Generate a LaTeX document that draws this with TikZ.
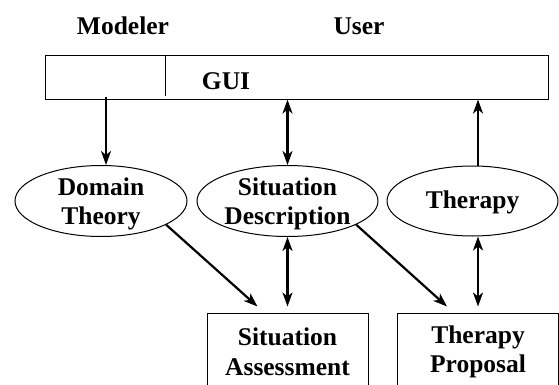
\documentclass[tikz,border=0pt]{standalone}
\usepackage{fontspec}
\setmainfont{Liberation Serif}
\usetikzlibrary{shapes.geometric,arrows.meta}
\begin{document}
\begin{tikzpicture}[x=1pt,y=-1pt,
  every node/.style={font=\fontsize{25.5}{29.5}\selectfont\bfseries},
  ell/.style={draw,ellipse,line width=1pt,inner sep=0pt},
  lbl/.style={align=center,inner sep=0pt},
  boxn/.style={draw,line width=1pt,minimum width=161pt,minimum height=78pt,align=center,inner sep=0pt},
  arr/.style={line width=2.2pt,{Stealth[length=14pt,width=10pt,inset=4pt]}-{Stealth[length=14pt,width=10pt,inset=4pt]}},
  arrf/.style={line width=2.2pt,-{Stealth[length=14pt,width=10pt,inset=4pt]}}]
\useasboundingbox (0,0) rectangle (559,385);
\clip (0,0) rectangle (559,385);
\fill[white] (0,0) rectangle (559,385);
% top labels
\node (mod) at (123,26) {Modeler};
\node (usr) at (359,26) {User};
% GUI bar
\node[draw,line width=1pt,minimum width=503pt,minimum height=43.3pt,inner sep=0pt] (gui) at (297.2,77.4) {};
\node (guit) at (226,81) {GUI};
\draw[line width=1pt] ([xshift=120.3pt]gui.north west) -- ([xshift=120.3pt,yshift=3.3pt]gui.south west);
% ellipses
\node[ell,minimum width=172pt,minimum height=71pt] (dt) at (101,201) {};
\node[lbl] at (101,204) {Domain\\Theory};
\node[ell,minimum width=181pt,minimum height=71pt] (sd) at (287.5,201) {};
\node[lbl] at (287.5,204) {Situation\\Description};
\node[ell,minimum width=171pt,minimum height=70pt] (th) at (472.5,201) {};
\node[lbl] at (472.5,202) {Therapy};
% boxes
\node[boxn] (sa) at (287.5,352) {Situation\\Assessment};
\node[boxn] (tp) at (478,352) {Therapy\\Proposal};
% connectors
\draw[arrf] ([xshift=5pt,yshift=3pt]gui.south -| dt.north) -- ([xshift=5pt]dt.north);
\draw[arr] (gui.south -| sd.north) -- (sd.north);
\draw[arrf] (th.north -| tp.north) -- (gui.south -| tp.north);
\draw[arrf] (dt.-20) -- ([xshift=51pt,yshift=6pt]sa.north west);
\draw[arrf] (sd.-19) -- ([xshift=50pt,yshift=6pt]tp.north west);
\draw[arr] (sd.south) -- ([yshift=6pt]sa.north);
\draw[arr] (th.south -| tp.north) -- ([yshift=6pt]tp.north);
\end{tikzpicture}
\end{document}
